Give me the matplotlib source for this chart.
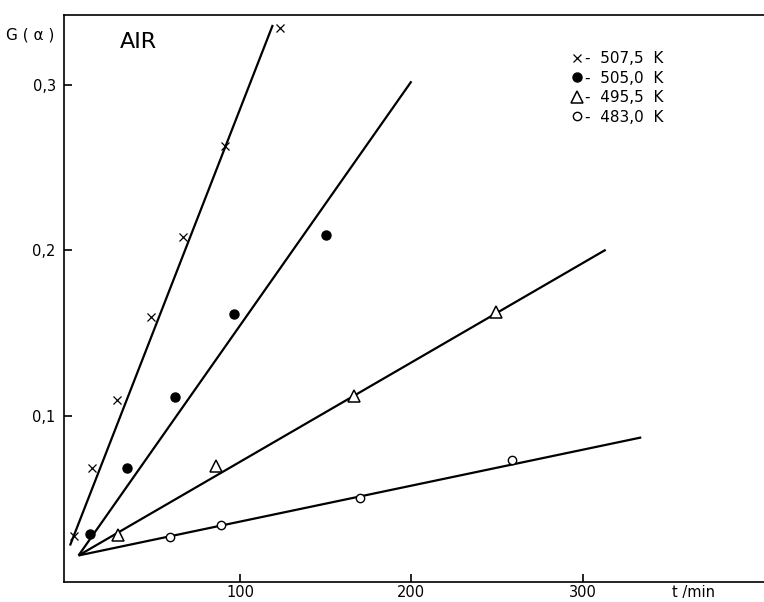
import numpy as np
import matplotlib
matplotlib.use("Agg")
from matplotlib import pyplot as plt

# measured points, t in min, G(alpha)
t_507 = [2.9, 13.3, 28.2, 47.8, 66.8, 91.0, 123.4]
g_507 = [0.028, 0.069, 0.110, 0.160, 0.208, 0.263, 0.334]

t_505 = [12.3, 33.7, 61.6, 96.5, 149.9]
g_505 = [0.0287, 0.069, 0.1114, 0.1616, 0.2094]

t_495 = [28.3, 85.8, 166.7, 249.7]
g_495 = [0.0283, 0.070, 0.112, 0.163]

t_483 = [58.7, 88.5, 169.8, 258.5]
g_483 = [0.0273, 0.0343, 0.0508, 0.0735]

# fitted straight lines as (start, end)
fit_t_507 = [0.5, 119.0]
fit_g_507 = [0.022, 0.336]
fit_t_505 = [5.5, 200.0]
fit_g_505 = [0.016, 0.302]
fit_t_495 = [5.5, 313.5]
fit_g_495 = [0.016, 0.2004]
fit_t_483 = [5.5, 334.3]
fit_g_483 = [0.016, 0.0872]

x_ticks = [100, 200, 300]
y_ticks = [0.1, 0.2, 0.3]
y_tick_labels = ["0,1", "0,2", "0,3"]

plt.rcParams['font.family'] = ['DejaVu Sans']

fig = plt.figure(figsize=(7.64, 6.02), dpi=100)
ax = fig.add_axes([64 / 764, 20 / 602, 1 - 64 / 764, (582 - 15) / 602])

lw = 1.6
for ft, fg in [(fit_t_507, fit_g_507), (fit_t_505, fit_g_505),
               (fit_t_495, fit_g_495), (fit_t_483, fit_g_483)]:
    ax.plot(ft, fg, color='black', lw=lw, solid_capstyle='butt')

ax.plot(t_507, g_507, ls='none', marker='x', ms=6, mew=0.9, color='black',
        label='-  507,5  K')
ax.plot(t_505, g_505, ls='none', marker='o', ms=6.5, color='black',
        label='-  505,0  K')
ax.plot(t_495, g_495, ls='none', marker='^', ms=8, mfc='white', mec='black',
        mew=1.1, label='-  495,5  K')
ax.plot(t_483, g_483, ls='none', marker='o', ms=6, mfc='white', mec='black',
        mew=1.0, label='-  483,0  K')

ax.set_xlim(-3, 406)
ax.set_ylim(0, 0.342)

ax.spines['right'].set_visible(False)
for s in ['left', 'bottom', 'top']:
    ax.spines[s].set_linewidth(1.2)

ax.set_xticks(x_ticks)
ax.set_xticklabels([str(v) for v in x_ticks])
ax.set_yticks(y_ticks)
ax.set_yticklabels(y_tick_labels)
ax.tick_params(direction='in', length=6, width=1.2, labelsize=10.5, pad=2)
ax.tick_params(axis='y', pad=6)

fig.text(6 / 764, 1 - 35 / 602, "G ( α )", fontsize=11, va='center', ha='left')
fig.text(120 / 764, 1 - 42 / 602, "AIR", fontsize=16, va='center', ha='left')
ax.text(365, -0.006, "t /min", fontsize=10.5, ha='center', va='top',
        transform=ax.get_xaxis_transform())

leg = ax.legend(loc='upper left', bbox_to_anchor=(572 / 764, 1 - 51 / 602),
                bbox_transform=fig.transFigure, frameon=False, fontsize=11,
                handlelength=0.6, handletextpad=0.25, labelspacing=0.3,
                borderpad=0, borderaxespad=0)

fig.savefig("out.png", dpi=100, facecolor='white')
